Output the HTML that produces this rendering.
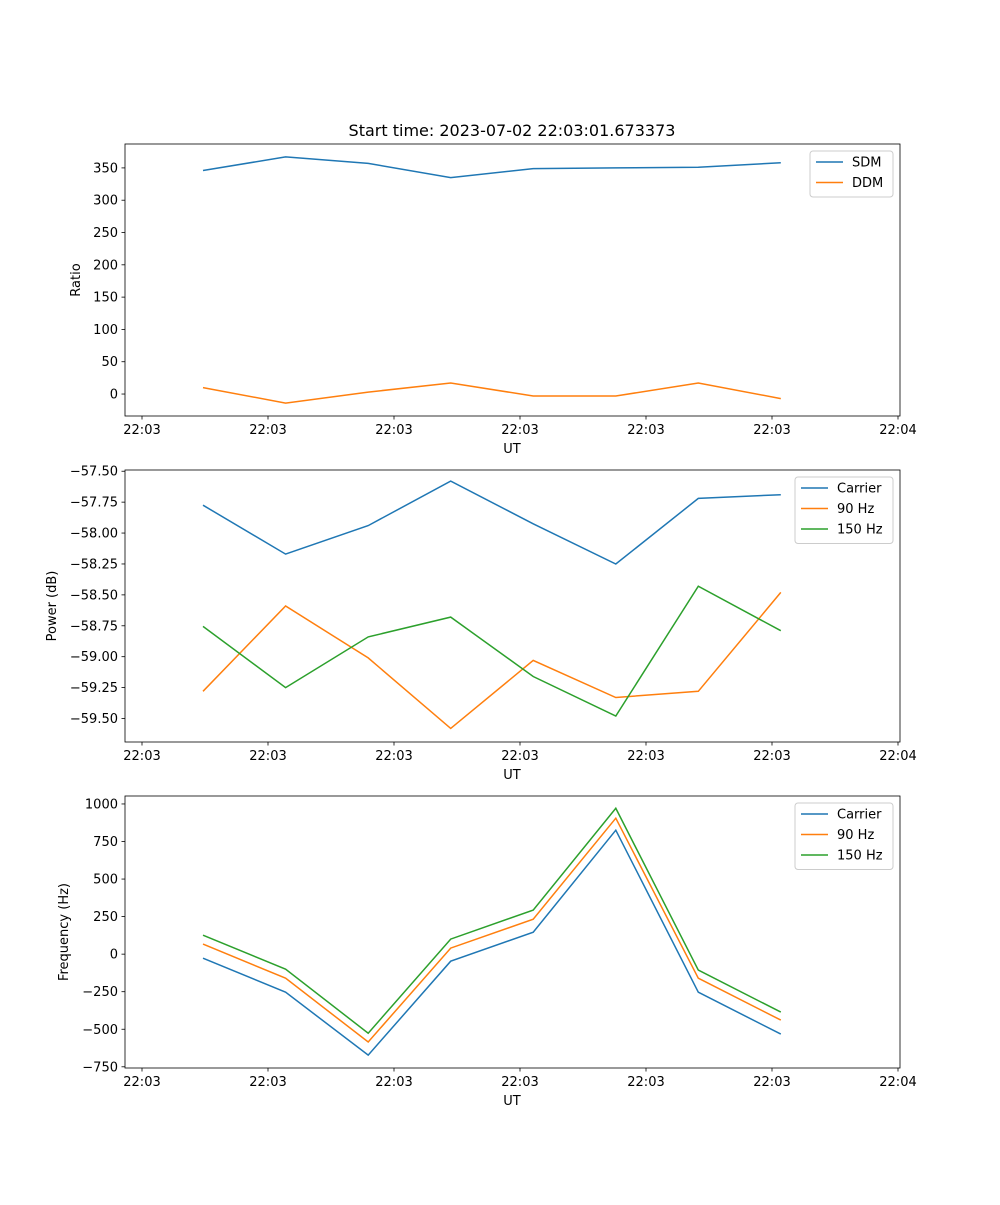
<!DOCTYPE html>
<html><head><meta charset="utf-8"><style>body{margin:0;background:#fff}svg text{font-family:"DejaVu Sans","Liberation Sans",sans-serif;fill:#000}</style></head>
<body>
<svg id="fig" width="1000" height="1200" xmlns="http://www.w3.org/2000/svg">
<rect width="1000" height="1200" fill="#fff"/>
<text x="512" y="136" text-anchor="middle" font-size="16">Start time: 2023-07-02 22:03:01.673373</text>
</svg>
<script>
const times=[4.84,11.4,17.95,24.5,31.05,37.6,44.15,50.7];
const xTickVals=[0,10,20,30,40,50,60];
const xTickLabels=["22:03","22:03","22:03","22:03","22:03","22:03","22:04"];
const sdm=[346,367,357,335,349,350,351,358];
const ddm=[10,-14,3,17,-3,-3,17,-7];
const powCarrier=[-57.775,-58.17,-57.94,-57.58,-57.925,-58.25,-57.72,-57.69];
const pow90=[-59.28,-58.59,-59.01,-59.58,-59.03,-59.33,-59.28,-58.48];
const pow150=[-58.755,-59.25,-58.84,-58.68,-59.16,-59.48,-58.43,-58.79];
const frqCarrier=[-27,-253,-672,-47,146,825,-253,-532];
const frq90=[67,-160,-585,40,233,905,-160,-439];
const frq150=[126,-100,-526,100,293,971,-106,-386];
const ticks1=[0,50,100,150,200,250,300,350];
const ticks2=[-59.5,-59.25,-59.0,-58.75,-58.5,-58.25,-58.0,-57.75,-57.5];
const ticks3=[-750,-500,-250,0,250,500,750,1000];
const C=["#1f77b4","#ff7f0e","#2ca02c"];
const NS="http://www.w3.org/2000/svg";
const svg=document.getElementById('fig');
function mk(tag,attrs,parent){const e=document.createElementNS(NS,tag);for(const k in attrs)e.setAttribute(k,attrs[k]);(parent||svg).appendChild(e);return e;}
const L=125,R=900;
const xs=t=>142+t*(898-142)/60;
function panel(name,top,bot,ymin,ymax,ticks,fmt,ylabel,ylx,series,names,leg){
  const g=mk('g',{});
  
  
  const ys=v=>bot-(v-ymin)/(ymax-ymin)*(bot-top);
  series.forEach((s,i)=>{
    const p=mk('polyline',{points:s.map((v,j)=>xs(times[j]).toFixed(1)+','+ys(v).toFixed(1)).join(' '),fill:'none',stroke:C[i],'stroke-width':1.5},g);
    
    
  });
  mk('rect',{x:L,y:top,width:R-L,height:bot-top,fill:'none',stroke:'#000','stroke-width':0.8},g);
  xTickVals.forEach((t,i)=>{const x=xs(t);mk('line',{x1:x,x2:x,y1:bot,y2:bot+3.5,stroke:'#000','stroke-width':0.8},g);
    const tx=mk('text',{x:x,y:bot+18,'text-anchor':'middle','font-size':13},g);tx.textContent=xTickLabels[i];
    
    });
  ticks.forEach(v=>{const y=ys(v);mk('line',{x1:L-3.5,x2:L,y1:y,y2:y,stroke:'#000','stroke-width':0.8},g);
    const tx=mk('text',{x:L-7,y:y+4.5,'text-anchor':'end','font-size':13},g);tx.textContent=fmt(v);
    
    });
  const xl=mk('text',{x:512,y:bot+37,'text-anchor':'middle','font-size':13},g);xl.textContent='UT';
  
  
  const yl=mk('text',{x:ylx,y:(top+bot)/2,'text-anchor':'middle','font-size':13,transform:`rotate(-90 ${ylx} ${(top+bot)/2})`},g);yl.textContent=ylabel;
  
  
  const lg=mk('g',{},g);
  
  
  mk('rect',{x:leg[0],y:top+7,width:893-leg[0],height:names.length*20.5+5,fill:'#fff',stroke:'#ccc',rx:3},lg);
  names.forEach((n,i)=>{const y=top+18+i*20.5;
    mk('line',{x1:leg[0]+6,x2:leg[0]+33,y1:y,y2:y,stroke:C[i],'stroke-width':1.5},lg);
    const t=mk('text',{x:leg[0]+42,y:y+4.5,'font-size':13},lg);t.textContent=n;
    
    });
}
panel('ratio',144,416,-34,387,ticks1,v=>String(v),'Ratio',80,[sdm,ddm],['SDM','DDM'],[810]);
panel('power',470,742,-59.69,-57.49,ticks2,v=>'\u2212'+Math.abs(v).toFixed(2),'Power (dB)',56,[powCarrier,pow90,pow150],['Carrier','90 Hz','150 Hz'],[795]);
panel('frequency',796,1068,-758,1053,ticks3,v=>(v<0?'\u2212':'')+Math.abs(v),'Frequency (Hz)',68,[frqCarrier,frq90,frq150],['Carrier','90 Hz','150 Hz'],[795]);
</script>
</body></html>
